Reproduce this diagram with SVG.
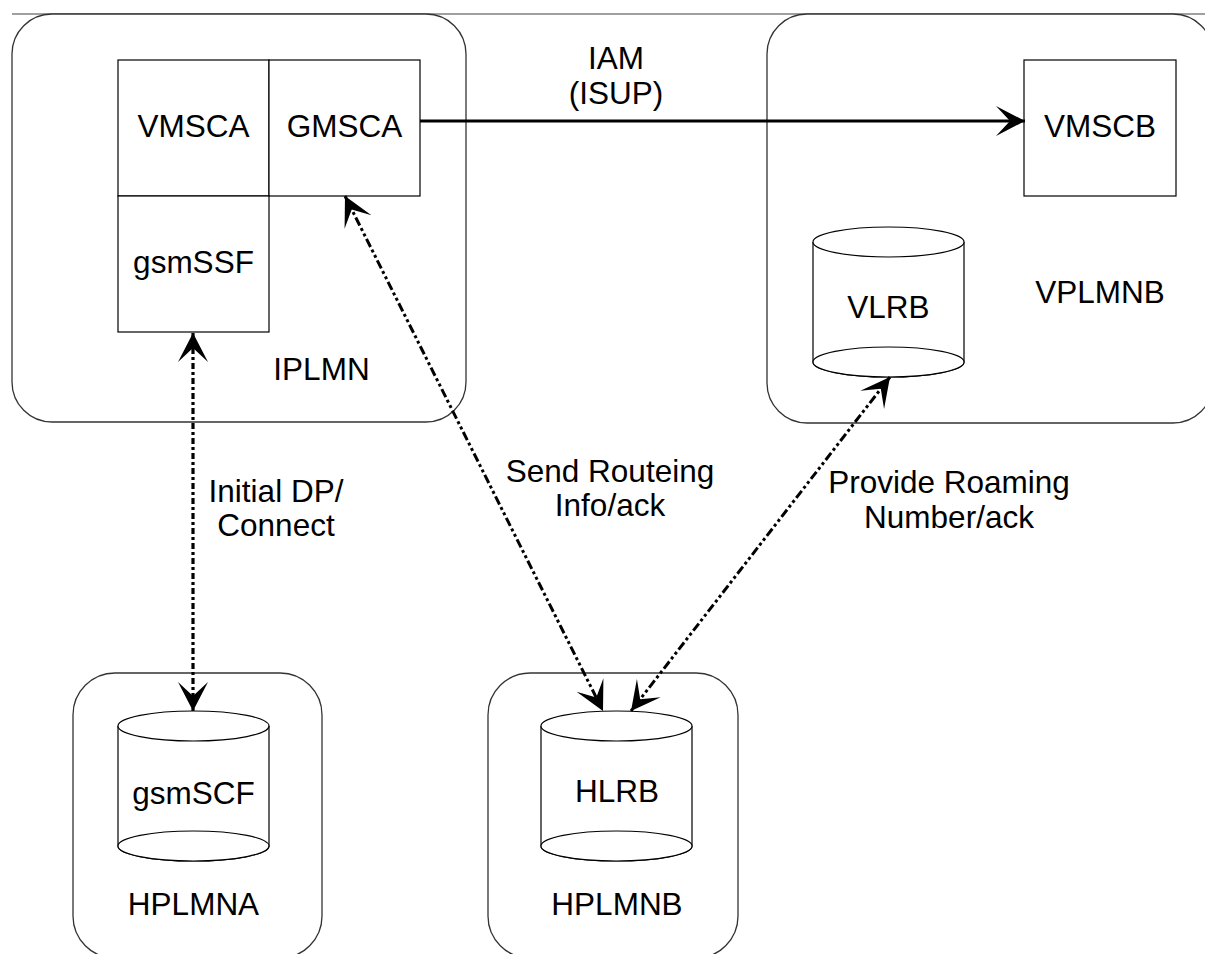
<svg xmlns="http://www.w3.org/2000/svg" width="1205" height="954" viewBox="0 0 1205 954">
<style>
.frame{fill:#fff;stroke:#333;stroke-width:1.3}
.box{fill:#fff;stroke:#000;stroke-width:1.2}
.cyl{fill:#fff;stroke:#000;stroke-width:1.2}
text{font-family:"Liberation Sans",Arial,sans-serif;font-size:31.5px;fill:#000;text-anchor:middle}
.solid{fill:none;stroke:#000;stroke-width:3.2}
.dd{fill:none;stroke:#000;stroke-width:3;stroke-dasharray:9 3 3 3 3 3}
.dot{fill:none;stroke:#000;stroke-width:3.2;stroke-dasharray:6 3 3 3}
</style>
<defs>
<marker id="arr" markerUnits="userSpaceOnUse" markerWidth="32" markerHeight="32" viewBox="-30 -16 32 32" refX="0" refY="0" orient="auto-start-reverse" overflow="visible">
<path d="M0,0 L-29,-15 L-15,0 L-29,15 Z" fill="#000"/>
</marker>
</defs>
<rect width="1205" height="954" fill="#fff"/>
<line x1="12" y1="14" x2="1205" y2="14" stroke="#808080" stroke-width="1.3"/>

<g id="IPLMN">
<rect class="frame" x="12" y="14" width="454" height="408" rx="40" ry="40"/>
<text x="321.5" y="380">IPLMN</text>
</g>
<g id="VMSCA">
<rect class="box" x="118" y="60" width="151" height="136"/>
<text x="193.5" y="137">VMSCA</text>
</g>
<g id="GMSCA">
<rect class="box" x="269" y="60" width="151" height="136"/>
<text x="344.5" y="137">GMSCA</text>
</g>
<g id="gsmSSF">
<rect class="box" x="118" y="196" width="151" height="136"/>
<text x="193.5" y="273">gsmSSF</text>
</g>

<g id="VPLMNB">
<rect class="frame" x="767" y="14" width="446" height="409" rx="40" ry="40"/>
<text x="1100" y="303">VPLMNB</text>
</g>
<g id="VMSCB">
<rect class="box" x="1024" y="60" width="152" height="136"/>
<text x="1100" y="137">VMSCB</text>
</g>
<g id="VLRB">
<path class="cyl" d="M813,242 L813,362 A75.5,15 0 0 0 964,362 L964,242"/>
<ellipse class="cyl" cx="888.5" cy="242" rx="75.5" ry="15"/>
<ellipse class="cyl" cx="888.5" cy="362" rx="75.5" ry="15"/>
<text x="888.5" y="318">VLRB</text>
</g>

<g id="HPLMNA">
<rect class="frame" x="73" y="673" width="249" height="285" rx="42" ry="42"/>
<text x="193.5" y="915">HPLMNA</text>
</g>
<g id="gsmSCF">
<path class="cyl" d="M118,726 L118,846 A75.5,15 0 0 0 269,846 L269,726"/>
<ellipse class="cyl" cx="193.5" cy="726" rx="75.5" ry="15"/>
<ellipse class="cyl" cx="193.5" cy="846" rx="75.5" ry="15"/>
<text x="193.5" y="804">gsmSCF</text>
</g>

<g id="HPLMNB">
<rect class="frame" x="488" y="673" width="250" height="285" rx="42" ry="42"/>
<text x="617" y="915">HPLMNB</text>
</g>
<g id="HLRB">
<path class="cyl" d="M541,726 L541,846 A75.5,15 0 0 0 692,846 L692,726"/>
<ellipse class="cyl" cx="616.5" cy="726" rx="75.5" ry="15"/>
<ellipse class="cyl" cx="616.5" cy="846" rx="75.5" ry="15"/>
<text x="617" y="802">HLRB</text>
</g>

<g id="connectors">
<line class="solid" x1="420" y1="121" x2="1025" y2="121" marker-end="url(#arr)"/>
<line class="dot" x1="193" y1="333" x2="193" y2="711" marker-start="url(#arr)" marker-end="url(#arr)"/>
<line class="dd" x1="345" y1="196" x2="603" y2="711" marker-start="url(#arr)" marker-end="url(#arr)"/>
<line class="dd" x1="890" y1="377" x2="631" y2="711" marker-start="url(#arr)" marker-end="url(#arr)"/>
</g>

<g id="labels">
<text x="616" y="69">IAM</text>
<text x="616" y="104">(ISUP)</text>
<text x="276" y="502">Initial DP/</text>
<text x="276" y="536">Connect</text>
<text x="610" y="482">Send Routeing</text>
<text x="610" y="516">Info/ack</text>
<text x="949" y="493">Provide Roaming</text>
<text x="949" y="528">Number/ack</text>
</g>
</svg>
